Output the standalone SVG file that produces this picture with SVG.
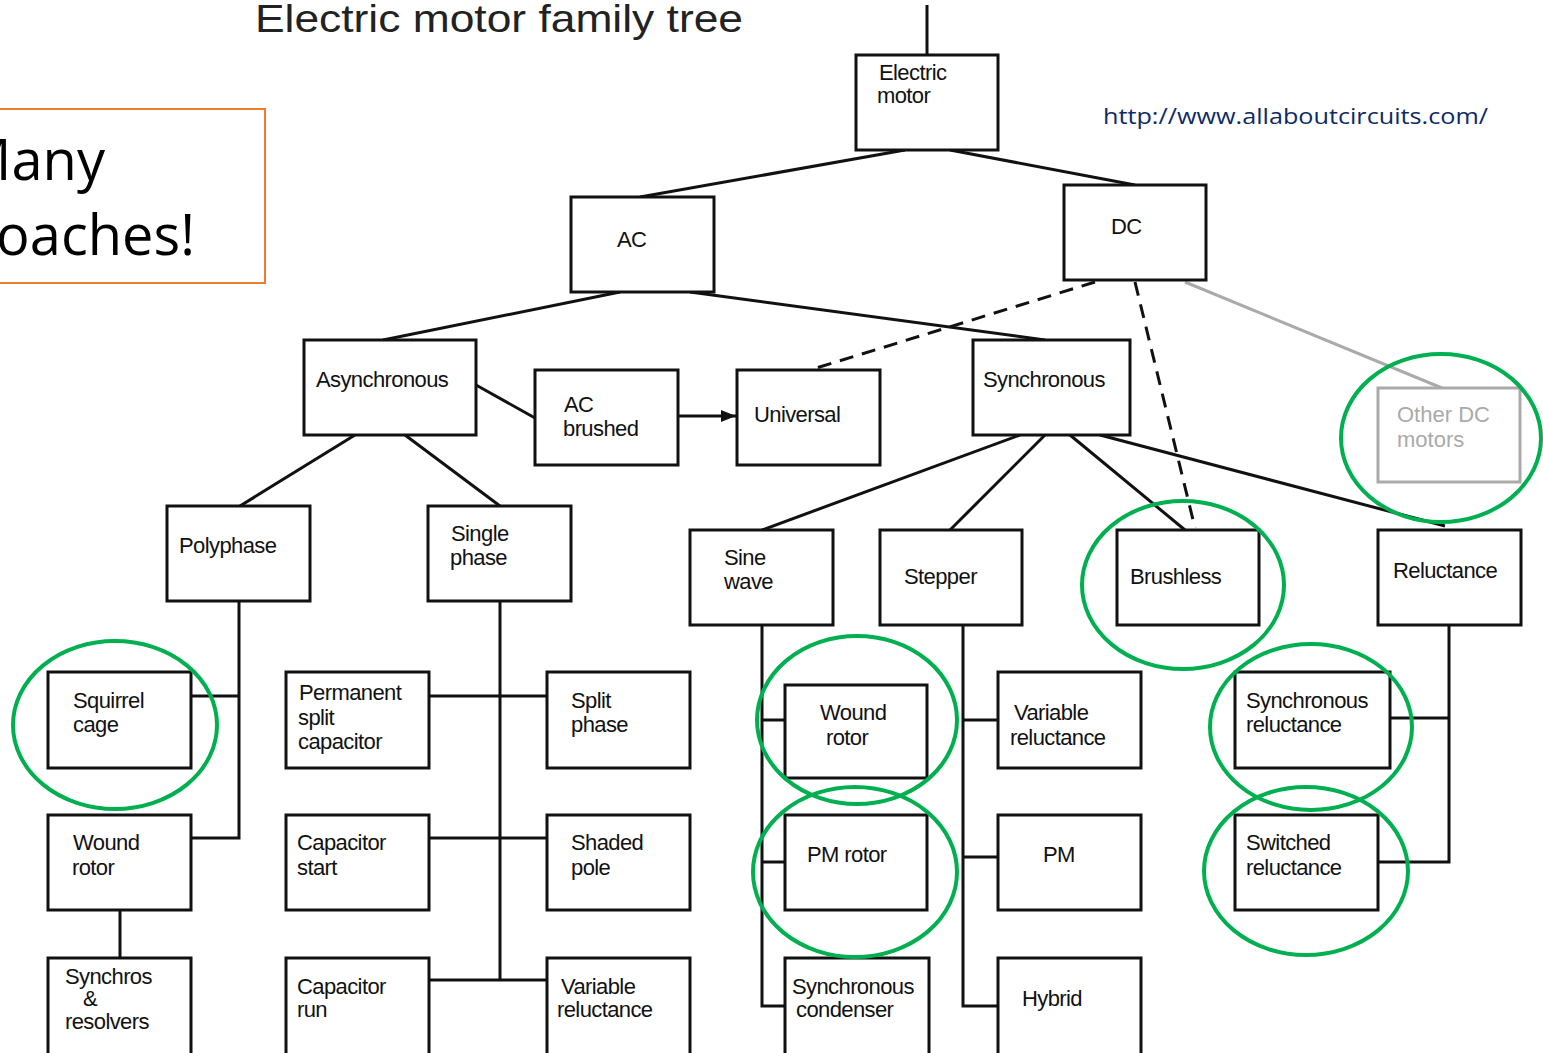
<svg xmlns="http://www.w3.org/2000/svg" width="1543" height="1053" viewBox="0 0 1543 1053">
<style>
.box{fill:#fff;stroke:#111;stroke-width:3}
.gbox{fill:#fff;stroke:#aaa;stroke-width:3}
.lbl{font-family:"Liberation Sans",Arial,sans-serif;font-size:22px;fill:#111;letter-spacing:-0.6px}
.glbl{font-family:"Liberation Sans",Arial,sans-serif;font-size:22px;fill:#aaa}
.ln{stroke:#111;stroke-width:3;fill:none}
.dash{stroke:#111;stroke-width:3;fill:none;stroke-dasharray:14 9}
.gln{stroke:#aaa;stroke-width:3;fill:none}
.ring{fill:none;stroke:#00B050;stroke-width:4}
</style>
<defs>
<marker id="arr" viewBox="0 0 10 10" refX="10" refY="5" markerWidth="5" markerHeight="5" orient="auto" markerUnits="strokeWidth">
<path d="M0,1 L10,5 L0,9 z" fill="#111"/>
</marker>
</defs>
<rect width="1543" height="1053" fill="#fff"/>

<text x="255" y="32" font-family="'Liberation Sans',Arial,sans-serif" font-size="39" fill="#222" textLength="488" lengthAdjust="spacingAndGlyphs">Electric motor family tree</text>

<g id="callout">
<rect x="-5" y="109" width="270" height="174" fill="#fff" stroke="#ED7D31" stroke-width="2"/>
<text x="105" y="180" text-anchor="end" font-family="'Open Sans','Liberation Sans',sans-serif" font-size="56" fill="#000">Many</text>
<text x="195" y="255" text-anchor="end" font-family="'Open Sans','Liberation Sans',sans-serif" font-size="56" fill="#000">approaches!</text>
</g>

<text x="1103" y="124" font-family="'Open Sans','Liberation Sans',sans-serif" font-size="22" fill="#0E2A66" textLength="385" lengthAdjust="spacingAndGlyphs">http://www.allaboutcircuits.com/</text>

<g id="connectors">
<line class="ln" x1="927" y1="5" x2="927" y2="55"/>
<line class="ln" x1="905" y1="150" x2="640" y2="197"/>
<line class="ln" x1="950" y1="150" x2="1135" y2="185"/>
<line class="ln" x1="620" y1="292" x2="383" y2="340"/>
<line class="ln" x1="690" y1="292" x2="1045" y2="340"/>
<line class="dash" x1="1095" y1="282" x2="810" y2="370"/>
<line class="dash" x1="1135" y1="282" x2="1195" y2="528"/>
<line class="gln" x1="1185" y1="282" x2="1442" y2="388"/>
<line class="ln" x1="476" y1="385" x2="535" y2="418"/>
<line class="ln" x1="678" y1="416" x2="736" y2="416" marker-end="url(#arr)"/>
<line class="ln" x1="355" y1="435" x2="240" y2="506"/>
<line class="ln" x1="405" y1="435" x2="500" y2="506"/>
<line class="ln" x1="1020" y1="435" x2="762" y2="530"/>
<line class="ln" x1="1045" y1="435" x2="950" y2="530"/>
<line class="ln" x1="1070" y1="435" x2="1185" y2="530"/>
<line class="ln" x1="1100" y1="435" x2="1445" y2="526"/>
<polyline class="ln" points="239,601 239,838 191,838"/>
<line class="ln" x1="191" y1="696" x2="239" y2="696"/>
<line class="ln" x1="120" y1="910" x2="120" y2="958"/>
<line class="ln" x1="500" y1="601" x2="500" y2="980"/>
<line class="ln" x1="429" y1="696" x2="547" y2="696"/>
<line class="ln" x1="429" y1="838" x2="547" y2="838"/>
<line class="ln" x1="429" y1="980" x2="547" y2="980"/>
<polyline class="ln" points="762,625 762,1006 785,1006"/>
<line class="ln" x1="762" y1="720" x2="785" y2="720"/>
<line class="ln" x1="762" y1="862" x2="785" y2="862"/>
<polyline class="ln" points="963,625 963,1006 998,1006"/>
<line class="ln" x1="963" y1="720" x2="998" y2="720"/>
<line class="ln" x1="963" y1="857" x2="998" y2="857"/>
<polyline class="ln" points="1449,625 1449,862 1378,862"/>
<line class="ln" x1="1390" y1="718" x2="1449" y2="718"/>
</g>

<g id="electric-motor"><rect class="box" x="856" y="55" width="142" height="95"/><text class="lbl" x="879" y="80">Electric</text><text class="lbl" x="877" y="103">motor</text></g>
<g id="ac"><rect class="box" x="571" y="197" width="143" height="95"/><text class="lbl" x="617" y="247">AC</text></g>
<g id="dc"><rect class="box" x="1064" y="185" width="142" height="95"/><text class="lbl" x="1111" y="234">DC</text></g>
<g id="asynchronous"><rect class="box" x="304" y="340" width="172" height="95"/><text class="lbl" x="316" y="387">Asynchronous</text></g>
<g id="ac-brushed"><rect class="box" x="535" y="370" width="143" height="95"/><text class="lbl" x="564" y="412">AC</text><text class="lbl" x="563" y="436">brushed</text></g>
<g id="universal"><rect class="box" x="737" y="370" width="143" height="95"/><text class="lbl" x="754" y="422">Universal</text></g>
<g id="synchronous"><rect class="box" x="973" y="340" width="157" height="95"/><text class="lbl" x="983" y="387">Synchronous</text></g>
<g id="other-dc"><rect class="gbox" x="1378" y="388" width="142" height="94"/><text class="glbl" x="1397" y="422">Other DC</text><text class="glbl" x="1397" y="447">motors</text></g>

<g id="polyphase"><rect class="box" x="167" y="506" width="143" height="95"/><text class="lbl" x="179" y="553">Polyphase</text></g>
<g id="single-phase"><rect class="box" x="428" y="506" width="143" height="95"/><text class="lbl" x="451" y="541">Single</text><text class="lbl" x="450" y="565">phase</text></g>
<g id="sine-wave"><rect class="box" x="690" y="530" width="143" height="95"/><text class="lbl" x="724" y="565">Sine</text><text class="lbl" x="724" y="589">wave</text></g>
<g id="stepper"><rect class="box" x="880" y="530" width="142" height="95"/><text class="lbl" x="904" y="584">Stepper</text></g>
<g id="brushless"><rect class="box" x="1117" y="530" width="142" height="95"/><text class="lbl" x="1130" y="584">Brushless</text></g>
<g id="reluctance"><rect class="box" x="1378" y="530" width="143" height="95"/><text class="lbl" x="1393" y="578">Reluctance</text></g>

<g id="squirrel-cage"><rect class="box" x="48" y="672" width="143" height="96"/><text class="lbl" x="73" y="708">Squirrel</text><text class="lbl" x="73" y="732">cage</text></g>
<g id="wound-rotor-1"><rect class="box" x="48" y="815" width="143" height="95"/><text class="lbl" x="73" y="850">Wound</text><text class="lbl" x="72" y="875">rotor</text></g>
<g id="synchros"><rect class="box" x="48" y="958" width="143" height="97"/><text class="lbl" x="65" y="984" font-size="21">Synchros</text><text class="lbl" x="83" y="1006" font-size="21">&amp;</text><text class="lbl" x="65" y="1029" font-size="21">resolvers</text></g>

<g id="psc"><rect class="box" x="286" y="672" width="143" height="96"/><text class="lbl" x="299" y="700">Permanent</text><text class="lbl" x="298" y="725">split</text><text class="lbl" x="298" y="749">capacitor</text></g>
<g id="split-phase"><rect class="box" x="547" y="672" width="143" height="96"/><text class="lbl" x="571" y="708">Split</text><text class="lbl" x="571" y="732">phase</text></g>
<g id="capacitor-start"><rect class="box" x="286" y="815" width="143" height="95"/><text class="lbl" x="297" y="850">Capacitor</text><text class="lbl" x="297" y="875">start</text></g>
<g id="shaded-pole"><rect class="box" x="547" y="815" width="143" height="95"/><text class="lbl" x="571" y="850">Shaded</text><text class="lbl" x="571" y="875">pole</text></g>
<g id="capacitor-run"><rect class="box" x="286" y="958" width="143" height="97"/><text class="lbl" x="297" y="994">Capacitor</text><text class="lbl" x="297" y="1017">run</text></g>
<g id="variable-reluctance-1"><rect class="box" x="547" y="958" width="143" height="97"/><text class="lbl" x="561" y="994" font-size="21">Variable</text><text class="lbl" x="557" y="1017" font-size="21">reluctance</text></g>

<g id="wound-rotor-2"><rect class="box" x="785" y="685" width="142" height="93"/><text class="lbl" x="820" y="720">Wound</text><text class="lbl" x="826" y="745">rotor</text></g>
<g id="pm-rotor"><rect class="box" x="785" y="815" width="142" height="95"/><text class="lbl" x="807" y="862">PM rotor</text></g>
<g id="synchronous-condenser"><rect class="box" x="785" y="958" width="144" height="97"/><text class="lbl" x="792" y="994" font-size="21">Synchronous</text><text class="lbl" x="796" y="1017" font-size="21">condenser</text></g>

<g id="variable-reluctance-2"><rect class="box" x="998" y="672" width="143" height="96"/><text class="lbl" x="1014" y="720">Variable</text><text class="lbl" x="1010" y="745">reluctance</text></g>
<g id="pm"><rect class="box" x="998" y="815" width="143" height="95"/><text class="lbl" x="1043" y="862">PM</text></g>
<g id="hybrid"><rect class="box" x="998" y="958" width="143" height="97"/><text class="lbl" x="1022" y="1006">Hybrid</text></g>

<g id="synchronous-reluctance"><rect class="box" x="1235" y="672" width="155" height="96"/><text class="lbl" x="1246" y="708">Synchronous</text><text class="lbl" x="1246" y="732">reluctance</text></g>
<g id="switched-reluctance"><rect class="box" x="1235" y="815" width="143" height="95"/><text class="lbl" x="1246" y="850">Switched</text><text class="lbl" x="1246" y="875">reluctance</text></g>

<g id="highlights">
<ellipse class="ring" cx="115" cy="725" rx="102" ry="84"/>
<ellipse class="ring" cx="857" cy="720" rx="100" ry="84"/>
<ellipse class="ring" cx="855" cy="872" rx="102" ry="85"/>
<ellipse class="ring" cx="1183" cy="585" rx="101" ry="84"/>
<ellipse class="ring" cx="1441" cy="438" rx="100" ry="84"/>
<ellipse class="ring" cx="1311" cy="727" rx="101" ry="83"/>
<ellipse class="ring" cx="1306" cy="871" rx="102" ry="84"/>
</g>
</svg>
